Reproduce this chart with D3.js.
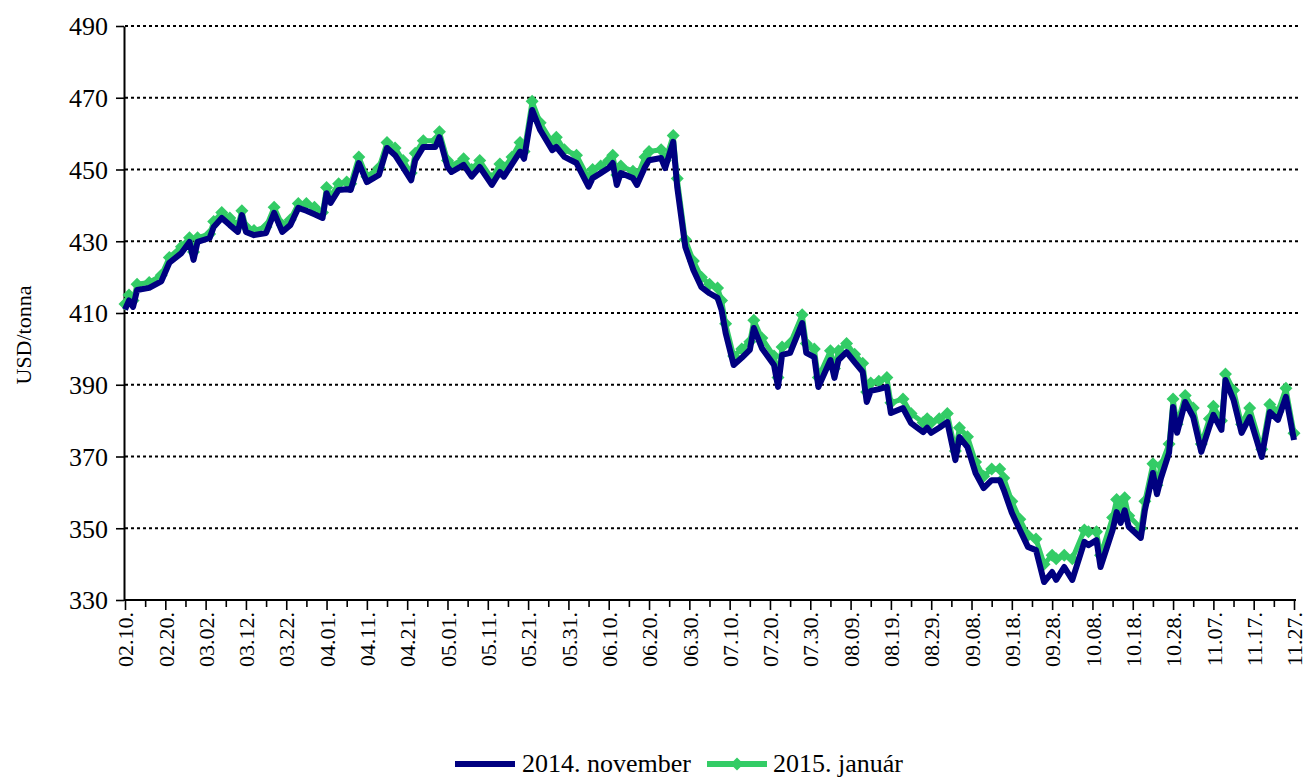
<!DOCTYPE html>
<html>
<head>
<meta charset="utf-8">
<script src="https://cdn.jsdelivr.net/npm/d3@7"></script>
<style>
  html, body { margin: 0; padding: 0; background: #fff; }
  svg { display: block; }
  text { font-family: "Liberation Serif", "Times New Roman", serif; fill: #000; }
</style>
</head>
<body>
<svg id="chart" width="1306" height="778"></svg>
<script>
// ---------- data ----------
const startYear = 2014;
const seriesNames = ["2014. november", "2015. január"];
const yTicks = [330, 350, 370, 390, 410, 430, 450, 470, 490];
const xTickLabels = ["02.10.", "02.20.", "03.02.", "03.12.", "03.22.", "04.01.", "04.11.", "04.21.",
  "05.01.", "05.11.", "05.21.", "05.31.", "06.10.", "06.20.", "06.30.", "07.10.", "07.20.", "07.30.",
  "08.09.", "08.19.", "08.29.", "09.08.", "09.18.", "09.28.", "10.08.", "10.18.", "10.28.", "11.07.",
  "11.17.", "11.27."];
// days counted from 02.10.
const dayOffsets = [
  0, 1, 2, 3, 6, 9, 11, 14, 16, 17,
  18, 21, 22, 24, 26, 28, 29, 30, 32, 35,
  37, 39, 41, 43, 45, 47, 49, 50, 51, 53,
  55, 56, 58, 60, 63, 65, 67, 69, 71, 72,
  74, 77, 78, 80, 81, 84, 86, 88, 91, 93,
  94, 96, 98, 99, 101, 103, 106, 107, 109, 112,
  115, 116, 118, 120, 121, 122, 123, 126, 127, 129,
  130, 133, 134, 136, 137, 139, 141, 143, 145, 147,
  148, 149, 151, 153, 155, 156, 158, 161, 162, 163,
  165, 168, 169, 171, 172, 175, 176, 177, 179, 181,
  183, 184, 185, 187, 189, 190, 193, 195, 198, 199,
  200, 202, 204, 206, 207, 209, 211, 213, 215, 217,
  218, 220, 222, 224, 226, 228, 230, 231, 233, 235,
  238, 239, 241, 242, 245, 246, 247, 248, 249, 252,
  253, 255, 256, 257, 259, 260, 261, 263, 265, 267,
  269, 270, 272, 273, 275, 277, 279, 282, 284, 286,
  288, 290];
const nov2014 = [
  411, 413.5, 411.7, 416.4, 417, 418.8, 424, 426.7, 429.8, 424.8,
  429.8, 430.9, 434, 436.5, 434.5, 432.6, 437.3, 432.6, 431.7, 432.3,
  437.9, 432.6, 434.5, 439.3, 438.5, 437.5, 436.5, 443.4, 440.7, 444.3,
  444.5, 444.3, 451.8, 446.5, 448.5, 456, 454, 450.5, 447, 452.6,
  456.3, 456.3, 459, 450.7, 449.3, 451.3, 448, 450.7, 445.7, 449.3,
  448, 451.5, 455, 453, 466.6, 461, 455.4, 456.3, 453.5, 451.8,
  445.2, 447.6, 449, 450.4, 451.8, 445.7, 449, 447.6, 445.7, 450.7,
  452.6, 453.2, 450.4, 457.7, 445, 428.4, 422, 417.2, 415.5, 414.2,
  410.8, 404.4, 395.5, 397.5, 399.7, 405.8, 400.2, 395.5, 389.4, 398.3,
  398.9, 407.2, 398.9, 397.7, 389.4, 396.9, 391.9, 396.9, 399.1, 396.3,
  393.6, 385.2, 388.3, 388.8, 389.4, 382.1, 383.5, 379.3, 376.8, 378,
  376.6, 378, 379.6, 369, 375.4, 372.6, 365.4, 361.2, 363.4, 363.4,
  360.7, 354.3, 349.5, 344.8, 343.9, 335, 337.8, 335.6, 339.2, 335.6,
  346.2, 345.3, 346.7, 339.2, 349.5, 354.5, 351.5, 355, 350.4, 347.3,
  355, 365.4, 359.5, 364, 371, 383.8, 376.6, 385.2, 381, 371.3,
  378.3, 381.6, 377.4, 391.3, 385.8, 376.6, 381, 369.9, 382.4, 380.2,
  386.6, 374.6];
const jan2015 = [
  412.5, 415, 413.5, 418, 418.5, 420.5, 425.5, 428.5, 431, 427,
  431, 432, 435.5, 438, 436.5, 434.5, 438.5, 434, 433, 434,
  439.5, 434.5, 436, 440.5, 440.5, 439.5, 438, 445, 442.5, 446,
  446.5, 446, 453.5, 448, 450.5, 457.5, 456, 452.5, 449, 454.5,
  458, 458, 460.5, 452.5, 451, 453, 450, 452.5, 447.5, 451.5,
  450.5, 453.5, 457.5, 455, 469, 463, 457.5, 459, 455.5, 454,
  447.5, 450, 451, 452.5, 454, 448.5, 451, 449.5, 448, 453.5,
  455, 455.5, 452.5, 459.5, 447.5, 430.5, 424.5, 420, 418, 417,
  413.5, 407, 398, 400, 402, 408, 403, 398, 392, 400.5,
  401.5, 409.5, 401.5, 400, 392, 399.5, 394.5, 399.5, 401.5, 398.5,
  396, 388, 390.5, 391, 392, 385, 386, 382, 379.5, 380.5,
  379.5, 380.5, 382, 371.5, 378, 375.5, 368.5, 364.5, 366.5, 366.5,
  364, 357.5, 352.5, 348, 347, 340, 342.5, 341.5, 342.5, 341.5,
  349.5, 349, 349, 342.5, 353, 358, 356, 358.5, 353.5, 350,
  357.5, 368, 362, 367.5, 373.5, 386, 379, 387, 383.5, 373.5,
  380.5, 384, 380, 393, 388.5, 379, 383.5, 372, 384.5, 382.5,
  389, 376.5];

// ---------- setup ----------
const navy = "#000080";
const green = "#33CC66";
const svg = d3.select("#chart");
const startDate = new Date(startYear, 1, 10);
const parseTick = s => new Date(startYear, +s.slice(0, 2) - 1, +s.slice(3, 5));
const majorDates = xTickLabels.map(parseTick);
const minorDates = majorDates.slice(0, -1).map(d => d3.timeDay.offset(d, 5));
const dates = dayOffsets.map(o => d3.timeDay.offset(startDate, o));

const pLeft = 125, pRight = 1294, pTop = 26, pBottom = 600;
const x = d3.scaleTime().domain([majorDates[0], majorDates[majorDates.length - 1]]).range([pLeft, pRight]);
const y = d3.scaleLinear().domain([330, 490]).range([pBottom, pTop]);

// gridlines
svg.append("g").selectAll("line").data(yTicks.filter(v => v !== 330)).join("line")
  .attr("x1", pLeft).attr("x2", 1300)
  .attr("y1", d => y(d)).attr("y2", d => y(d))
  .attr("stroke", "#000").attr("stroke-width", 2).attr("stroke-dasharray", "3,3");

// y axis
const yAxis = svg.append("g").attr("transform", `translate(${pLeft - 1},0)`)
  .call(d3.axisLeft(y).tickValues(yTicks).tickSize(8).tickSizeOuter(0).tickPadding(8));
yAxis.select(".domain").attr("stroke", "#000").attr("stroke-width", 2);
yAxis.selectAll(".tick line").attr("stroke", "#000").attr("stroke-width", 1.6);
yAxis.selectAll("text").style("font-size", "26px").attr("dy", "0.34em");

// x axis minor
const xMinor = svg.append("g").attr("transform", `translate(0,${pBottom})`)
  .call(d3.axisBottom(x).tickValues(minorDates).tickSize(7).tickSizeOuter(0).tickFormat(""));
xMinor.select(".domain").remove();
xMinor.selectAll(".tick line").attr("stroke", "#000").attr("stroke-width", 1.6);

// x axis major
const fmt = d3.timeFormat("%m.%d.");
const xAxis = svg.append("g").attr("transform", `translate(0,${pBottom})`)
  .call(d3.axisBottom(x).tickValues(majorDates).tickSize(10).tickSizeOuter(0).tickFormat(fmt));
xAxis.select(".domain").attr("stroke", "#000").attr("stroke-width", 2).attr("d", `M${pLeft - 1},0H1296`);
xAxis.selectAll(".tick line").attr("stroke", "#000").attr("stroke-width", 1.6);
xAxis.selectAll("text")
  .style("font-size", "22px")
  .attr("text-anchor", "end")
  .attr("transform", "rotate(-90)")
  .attr("x", -12).attr("y", 0).attr("dy", "0.35em");

// y title
svg.append("text")
  .attr("transform", `translate(23,${(pTop + pBottom) / 2 + 22}) rotate(-90)`)
  .attr("text-anchor", "middle").attr("dy", "0.35em")
  .style("font-size", "22px")
  .text("USD/tonna");

// series
const data = dates.map((d, i) => ({ d, a: nov2014[i], b: jan2015[i] }));
const lineB = d3.line().x(p => x(p.d)).y(p => y(p.b));
const lineA = d3.line().x(p => x(p.d)).y(p => y(p.a));
const diamond = "M0,-6.5L6.5,0L0,6.5L-6.5,0Z";

svg.append("path").datum(data).attr("d", lineB)
  .attr("fill", "none").attr("stroke", green).attr("stroke-width", 5).attr("stroke-linejoin", "round");
svg.append("g").selectAll("path").data(data).join("path")
  .attr("d", diamond)
  .attr("transform", p => `translate(${x(p.d)},${y(p.b)})`)
  .attr("fill", green);
svg.append("path").datum(data).attr("d", lineA)
  .attr("fill", "none").attr("stroke", navy).attr("stroke-width", 6).attr("stroke-linejoin", "round");

// legend
const lg = svg.append("g");
lg.append("line").attr("x1", 455).attr("x2", 515).attr("y1", 764).attr("y2", 764)
  .attr("stroke", navy).attr("stroke-width", 6);
lg.append("text").attr("x", 522).attr("y", 772).style("font-size", "26px").text(seriesNames[0]);
lg.append("line").attr("x1", 707).attr("x2", 767).attr("y1", 764).attr("y2", 764)
  .attr("stroke", green).attr("stroke-width", 6);
lg.append("path").attr("d", diamond).attr("transform", "translate(737,764)").attr("fill", green);
lg.append("text").attr("x", 773).attr("y", 772).style("font-size", "26px").text(seriesNames[1]);
</script>
</body>
</html>
